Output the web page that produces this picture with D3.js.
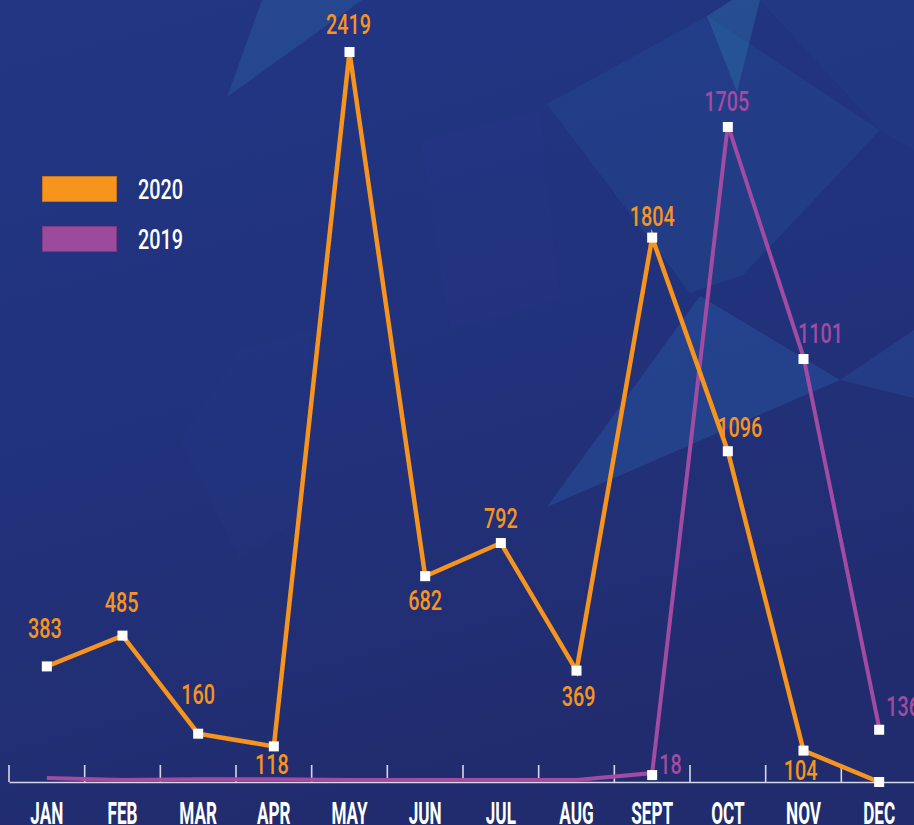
<!DOCTYPE html>
<html>
<head>
<meta charset="utf-8">
<script src="https://cdn.jsdelivr.net/npm/d3@7"></script>
<style>
html,body{margin:0;padding:0;background:#21317a;overflow:hidden}
svg{display:block}
</style>
</head>
<body>
<svg id="chart" width="914" height="825"></svg>
<script>
// ---------- data ----------
const months = ["JAN","FEB","MAR","APR","MAY","JUN","JUL","AUG","SEPT","OCT","NOV","DEC"];
const values2020 = [383, 485, 160, 118, 2419, 682, 792, 369, 1804, 1096, 104, 0];
const values2019 = [5, 0, 2, 2, 0, 0, 0, 0, 18, 1705, 1101, 136];
const seriesNames = ["2020", "2019"];

// ---------- layout / style (not data) ----------
const W = 914, H = 825;
const baseY = 782;
const colOrange = "#F7941D";
const colPurple = "#A24BA3";
const labelDx2020 = [-2, -1, 0, -2, -1, 0, 0, 2, 0, 12, -3, 0];
const labelDy2020 = [-28, -24, -30, 28, -18, 34, -15, 35, -12, -14, 29, 0];
const labelDx2019 = [0, 0, 0, 0, 0, 0, 0, 0, 7, -1, 17, 7];
const labelDy2019 = [0, 0, 0, 0, 0, 0, 0, 0, -1, -16, -16, -14];
const labelAnchor2019 = ["middle","middle","middle","middle","middle","middle","middle","middle","start","middle","middle","start"];

const svg = d3.select("#chart");
const FONT = "Roboto, 'Liberation Sans', Arial, sans-serif";

// ---------- background ----------
const defs = svg.append("defs");
const grad = defs.append("linearGradient").attr("id","bg").attr("x1",0).attr("y1",0).attr("x2",0.3).attr("y2",1);
grad.append("stop").attr("offset","0%").attr("stop-color","#223684");
grad.append("stop").attr("offset","55%").attr("stop-color","#21327c");
grad.append("stop").attr("offset","100%").attr("stop-color","#212c6e");
svg.append("rect").attr("width",W).attr("height",H).attr("fill","url(#bg)");

const polys = [
  {p:[[227,97],[262,0],[362,0]], c:"#2e6aa8", o:0.35},
  {p:[[547,104],[707,16],[880,130],[743,275],[690,293]], c:"#2a5fa6", o:0.22},
  {p:[[707,16],[732,0],[760,0],[737,92]], c:"#2e7fae", o:0.35},
  {p:[[760,0],[914,0],[914,150],[880,130]], c:"#294a92", o:0.2},
  {p:[[547,507],[700,296],[840,380]], c:"#2a63b0", o:0.35},
  {p:[[840,380],[914,330],[914,398]], c:"#2a5aa6", o:0.3},
  {p:[[180,440],[240,350],[310,330],[300,520],[240,560]], c:"#2a4496", o:0.1},
  {p:[[420,140],[540,110],[560,300],[450,330]], c:"#25398a", o:0.15}
];
svg.append("g").selectAll("polygon").data(polys).join("polygon")
  .attr("points", d => d.p.map(q => q.join(",")).join(" "))
  .attr("fill", d => d.c).attr("opacity", d => d.o);

// ---------- scales ----------
const x = d3.scaleBand().domain(months).range([9, 917]).padding(0);
const cx = m => x(m) + x.bandwidth() / 2;
const y2020 = d3.scaleLinear().domain([0, d3.max(values2020)]).range([baseY, 52]);
const y2019 = d3.scaleLinear().domain([0, d3.max(values2019)]).range([baseY, 127]);

// measure helper for condensed text
function fitScale(sample, size, weight, target) {
  const t = svg.append("text").attr("font-family", FONT).attr("font-size", size)
    .attr("font-weight", weight).text(sample);
  const w = t.node().getComputedTextLength();
  t.remove();
  return target / w;
}
const numSize = 28;
const numSX = fitScale("0000", numSize, 500, 45);
const monSize = 32;
const monSX = fitScale("JAN", monSize, 700, 33);

// ---------- axis ----------
const axisG = svg.append("g").attr("transform", `translate(0,${baseY})`);
axisG.call(d3.axisBottom(x).tickSize(0).tickSizeOuter(0).tickPadding(0));
axisG.select(".domain").attr("stroke", "#d5d8e8").attr("stroke-width", 1.6);
axisG.selectAll(".tick text")
  .attr("y", 42).attr("dy", 0)
  .attr("fill", "#ffffff")
  .attr("font-family", FONT).attr("font-size", monSize).attr("font-weight", 700)
  .attr("transform", `scale(${monSX},1)`);
axisG.selectAll("line.bound").data(months).join("line").attr("class","bound")
  .attr("x1", d => x(d)).attr("x2", d => x(d))
  .attr("y1", 0).attr("y2", -17)
  .attr("stroke", "#d5d8e8").attr("stroke-width", 1.6);

// ---------- lines ----------
const line2019 = d3.line().x((d, i) => cx(months[i])).y(d => y2019(d));
const line2020 = d3.line().x((d, i) => cx(months[i])).y(d => y2020(d));

svg.append("path").datum(values2019).attr("d", line2019)
  .attr("fill", "none").attr("stroke", colPurple).attr("stroke-width", 4)
  .attr("transform","translate(0,-2)");
svg.append("path").datum(values2020).attr("d", line2020)
  .attr("fill", "none").attr("stroke", colOrange).attr("stroke-width", 4.5);

// ---------- markers ----------
const m2020 = values2020.map((v, i) => ({v, i}));
const m2019 = values2019.map((v, i) => ({v, i})).filter(d => d.v >= 10);
const sq = 10;
svg.append("g").selectAll("rect").data(m2020).join("rect")
  .attr("x", d => cx(months[d.i]) - sq/2).attr("y", d => y2020(d.v) - sq/2)
  .attr("width", sq).attr("height", sq).attr("fill", "#ffffff");
svg.append("g").selectAll("rect").data(m2019).join("rect")
  .attr("x", d => cx(months[d.i]) - sq/2).attr("y", d => y2019(d.v) - sq/2)
  .attr("width", sq).attr("height", sq).attr("fill", "#ffffff");

// ---------- value labels ----------
svg.append("g").selectAll("text").data(m2020.filter(d => d.v > 0)).join("text")
  .attr("transform", d => `translate(${cx(months[d.i]) + labelDx2020[d.i]},${y2020(d.v) + labelDy2020[d.i]}) scale(${numSX},1)`)
  .attr("text-anchor", "middle")
  .attr("font-family", FONT).attr("font-size", numSize).attr("font-weight", 500)
  .attr("fill", colOrange).text(d => d.v);
svg.append("g").selectAll("text").data(m2019).join("text")
  .attr("transform", d => `translate(${cx(months[d.i]) + labelDx2019[d.i]},${y2019(d.v) + labelDy2019[d.i]}) scale(${numSX},1)`)
  .attr("text-anchor", d => labelAnchor2019[d.i])
  .attr("font-family", FONT).attr("font-size", numSize).attr("font-weight", 500)
  .attr("fill", colPurple).text(d => d.v);

// ---------- legend ----------
const legend = svg.append("g");
const legendColors = [colOrange, "#9C4A9C"];
const legendStroke = ["#c9751a", "#7e3a80"];
legend.selectAll("rect").data(seriesNames).join("rect")
  .attr("x", 42.5).attr("y", (d, i) => 176.5 + i * 50)
  .attr("width", 74).attr("height", 25)
  .attr("fill", (d, i) => legendColors[i])
  .attr("stroke", (d, i) => legendStroke[i]).attr("stroke-width", 1);
legend.selectAll("text").data(seriesNames).join("text")
  .attr("transform", (d, i) => `translate(138,${199 + i * 50}) scale(${numSX},1)`)
  .attr("font-family", FONT).attr("font-size", numSize).attr("font-weight", 500)
  .attr("fill", "#ffffff").text(d => d);
</script>
</body>
</html>
